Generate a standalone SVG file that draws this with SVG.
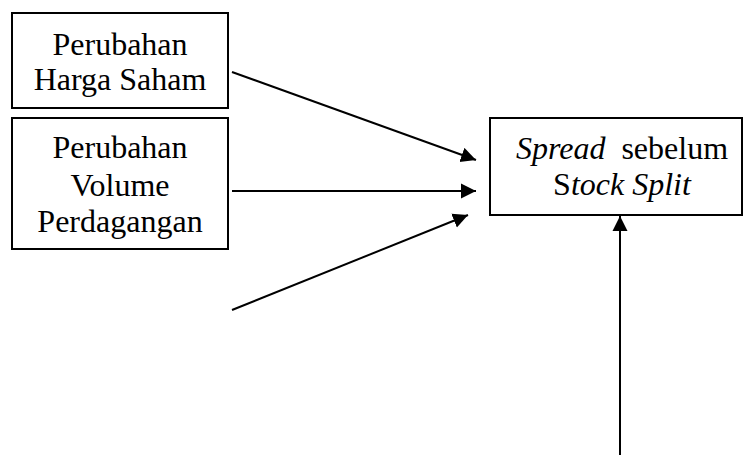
<svg xmlns="http://www.w3.org/2000/svg" width="745" height="455" viewBox="0 0 745 455">
<style>
.box{fill:#fff;stroke:#000;stroke-width:2}
.t{font-family:"Liberation Serif","Times New Roman",serif;font-size:32px;fill:#000;text-anchor:middle;white-space:pre}
.c{stroke:#000;stroke-width:2;fill:none;marker-end:url(#ah)}
</style>
<defs>
<marker id="ah" markerWidth="16" markerHeight="16" refX="15" refY="8" orient="auto" markerUnits="userSpaceOnUse">
<path d="M0,0.5 L15,8 L0,15.5 Z" fill="#000"/>
</marker>
</defs>
<rect width="745" height="455" fill="#fff"/>
<g id="harga">
<rect class="box" x="12" y="13" width="216" height="95"/>
<text class="t" x="120" y="55">Perubahan</text>
<text class="t" x="120" y="90">Harga Saham</text>
</g>
<g id="volume">
<rect class="box" x="12" y="118" width="216" height="131"/>
<text class="t" x="120" y="158">Perubahan</text>
<text class="t" x="120" y="196">Volume</text>
<text class="t" x="120" y="232">Perdagangan</text>
</g>
<g id="spread">
<rect class="box" x="490" y="118" width="252" height="97"/>
<text class="t" x="622" y="159" xml:space="preserve"><tspan font-style="italic">Spread</tspan>  sebelum</text>
<text class="t" x="622" y="195">S<tspan font-style="italic">tock Split</tspan></text>
</g>
<g id="connectors">
<line class="c" x1="232" y1="72" x2="476" y2="160"/>
<line class="c" x1="232" y1="191" x2="476" y2="191"/>
<line class="c" x1="232" y1="310" x2="468" y2="215"/>
<line class="c" x1="620" y1="455" x2="620" y2="216"/>
</g>
</svg>
